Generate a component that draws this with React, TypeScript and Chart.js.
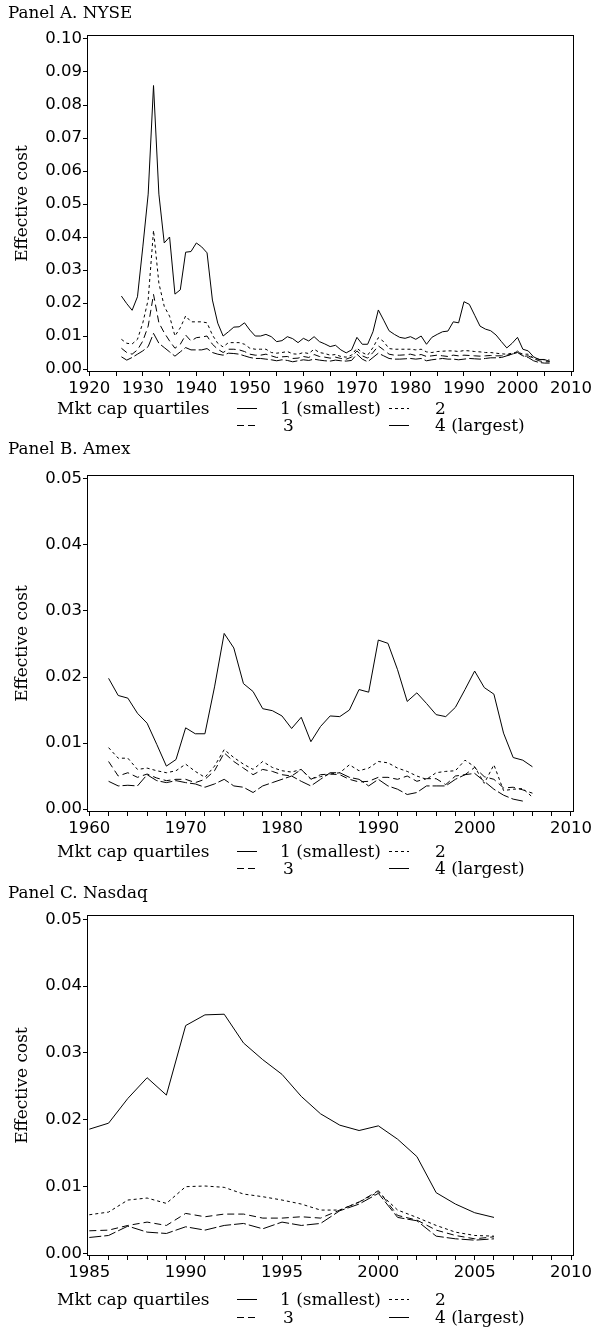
import React, { useEffect, useRef } from "react";
import { Chart, registerables } from "chart.js";

Chart.register(...registerables);

// ---------------- Panel A: NYSE ----------------
const nyseYears = [
  1926, 1927, 1928, 1929, 1930, 1931, 1932, 1933, 1934, 1935,
  1936, 1937, 1938, 1939, 1940, 1941, 1942, 1943, 1944, 1945,
  1946, 1947, 1948, 1949, 1950, 1951, 1952, 1953, 1954, 1955,
  1956, 1957, 1958, 1959, 1960, 1961, 1962, 1963, 1964, 1965,
  1966, 1967, 1968, 1969, 1970, 1971, 1972, 1973, 1974, 1975,
  1976, 1977, 1978, 1979, 1980, 1981, 1982, 1983, 1984, 1985,
  1986, 1987, 1988, 1989, 1990, 1991, 1992, 1993, 1994, 1995,
  1996, 1997, 1998, 1999, 2000, 2001, 2002, 2003, 2004, 2005,
  2006,
];
const nyseQ1 = [
  0.0221, 0.0198, 0.0178, 0.0219, 0.037, 0.053, 0.0859, 0.053, 0.0382, 0.04,
  0.0227, 0.024, 0.0354, 0.0356, 0.0382, 0.037, 0.0352, 0.0209, 0.0139, 0.01,
  0.0113, 0.0127, 0.0128, 0.014, 0.0118, 0.01, 0.01, 0.0105, 0.0098, 0.0083,
  0.0086, 0.0098, 0.0092, 0.008, 0.0093, 0.0085, 0.0098, 0.0083, 0.0076, 0.0068,
  0.0072, 0.0058, 0.0049, 0.0058, 0.0096, 0.0075, 0.0075, 0.0113, 0.0179, 0.0148,
  0.0116, 0.0105, 0.0096, 0.0093, 0.0098, 0.009, 0.01, 0.0075, 0.0096, 0.0105,
  0.0113, 0.0115, 0.0143, 0.014, 0.0204, 0.0196, 0.0163, 0.013, 0.0121, 0.0116,
  0.0103, 0.0083, 0.0064, 0.0078, 0.0096, 0.006, 0.0055, 0.0037, 0.0029, 0.0029,
  0.0023,
];
const nyseQ2 = [
  0.009, 0.0078, 0.0076, 0.009, 0.014, 0.021, 0.042, 0.026, 0.019, 0.016,
  0.01, 0.0125, 0.0161, 0.0143, 0.0143, 0.0143, 0.014, 0.0103, 0.0078, 0.0067,
  0.008, 0.008, 0.008, 0.0075, 0.0063, 0.006, 0.006, 0.006, 0.005, 0.0048,
  0.005, 0.0053, 0.0046, 0.0045, 0.005, 0.0047, 0.006, 0.005, 0.0047, 0.0042,
  0.0044, 0.0038, 0.0036, 0.0042, 0.0063, 0.005, 0.0042, 0.0065, 0.0095, 0.0083,
  0.0062, 0.006, 0.006, 0.006, 0.006, 0.0058, 0.006, 0.0052, 0.005, 0.0053,
  0.0054, 0.0055, 0.0055, 0.0053, 0.0056, 0.0055, 0.0053, 0.0052, 0.005, 0.005,
  0.0048, 0.0046, 0.0045, 0.0048, 0.0052, 0.0045, 0.0045, 0.0033, 0.003, 0.0028,
  0.0027,
];
const nyseQ3 = [
  0.0063, 0.005, 0.0045, 0.0058, 0.0085, 0.013, 0.0226, 0.014, 0.011, 0.0085,
  0.0063, 0.0075, 0.0103, 0.0085, 0.0095, 0.0097, 0.01, 0.0075, 0.006, 0.005,
  0.006, 0.006, 0.0058, 0.0053, 0.0045, 0.0042, 0.0042, 0.0045, 0.004, 0.0035,
  0.0037, 0.0038, 0.0032, 0.0033, 0.0038, 0.0035, 0.0044, 0.0038, 0.0036, 0.0033,
  0.0036, 0.0032, 0.003, 0.0036, 0.0055, 0.004, 0.0033, 0.005, 0.007, 0.0058,
  0.0045, 0.0042, 0.0042, 0.0043, 0.0045, 0.0041, 0.0044, 0.0038, 0.004, 0.0042,
  0.004, 0.0038, 0.0042, 0.004, 0.0042, 0.0041, 0.004, 0.0039, 0.004, 0.0041,
  0.004, 0.004, 0.0042, 0.0045, 0.0055, 0.0038, 0.004, 0.0032, 0.0025, 0.0022,
  0.0022,
];
const nyseQ4 = [
  0.0037, 0.0027, 0.0035, 0.0045, 0.0055, 0.0068, 0.0108, 0.0078, 0.0065, 0.0052,
  0.0039, 0.0052, 0.0065, 0.0058, 0.0058, 0.0058, 0.0062, 0.005, 0.0045, 0.0042,
  0.0048, 0.0047, 0.0045, 0.004, 0.0035, 0.0032, 0.0032, 0.003, 0.0028, 0.0025,
  0.0028, 0.0026, 0.0022, 0.0025, 0.0028, 0.0026, 0.003, 0.0027, 0.0025, 0.0024,
  0.0027, 0.0025, 0.0024, 0.0026, 0.0045, 0.003, 0.0022, 0.0035, 0.0048, 0.004,
  0.0032, 0.003, 0.003, 0.0031, 0.0032, 0.003, 0.0032, 0.0025, 0.0028, 0.003,
  0.0032, 0.003, 0.003, 0.0028, 0.003, 0.0032, 0.0031, 0.003, 0.0032, 0.0034,
  0.0034, 0.0035, 0.004, 0.0045, 0.005, 0.004, 0.0035, 0.0025, 0.002, 0.0018,
  0.0018,
];

// ---------------- Panel B: Amex ----------------
const amexYears = [
  1962, 1963, 1964, 1965, 1966, 1967, 1968, 1969, 1970, 1971,
  1972, 1973, 1974, 1975, 1976, 1977, 1978, 1979, 1980, 1981,
  1982, 1983, 1984, 1985, 1986, 1987, 1988, 1989, 1990, 1991,
  1992, 1993, 1994, 1995, 1996, 1997, 1998, 1999, 2000, 2001,
  2002, 2003, 2004, 2005, 2006,
];
const amexQ1 = [
  0.0198, 0.0172, 0.0168, 0.0145, 0.013, 0.0098, 0.0065, 0.0075, 0.0123, 0.0114,
  0.0114, 0.0185, 0.0266, 0.0244, 0.019, 0.0178, 0.0152, 0.0149, 0.0141, 0.0122,
  0.0139, 0.0102, 0.0125, 0.0141, 0.014, 0.015, 0.0181, 0.0177, 0.0256, 0.0251,
  0.0211, 0.0163, 0.0176, 0.016, 0.0143, 0.014, 0.0154, 0.0181, 0.0209, 0.0184,
  0.0174, 0.0115, 0.0078, 0.0074, 0.0064,
];
const amexQ2 = [
  0.0093, 0.0077, 0.0077, 0.006, 0.0062, 0.0058, 0.0055, 0.0058, 0.0068, 0.0057,
  0.0048, 0.0065, 0.009, 0.0078, 0.0068, 0.006, 0.0072, 0.0063, 0.0058, 0.0056,
  0.006, 0.0046, 0.0049, 0.0053, 0.0055, 0.0067, 0.0058, 0.0062, 0.0072, 0.007,
  0.0062, 0.0057, 0.005, 0.0045, 0.0055, 0.0057, 0.0058, 0.0074, 0.0064, 0.0039,
  0.0067, 0.0028, 0.003, 0.0031, 0.0018,
];
const amexQ3 = [
  0.0072, 0.005, 0.0055, 0.0048, 0.0053, 0.0047, 0.0043, 0.0045, 0.0045, 0.004,
  0.0045, 0.0058, 0.0085, 0.0072, 0.0062, 0.0052, 0.006, 0.0057, 0.0052, 0.005,
  0.006, 0.0045, 0.0052, 0.0053, 0.0052, 0.0045, 0.0041, 0.0042, 0.0048, 0.0048,
  0.0045, 0.005, 0.0042, 0.0046, 0.0046, 0.0037, 0.005, 0.0052, 0.0063, 0.0049,
  0.0045, 0.0032, 0.0033, 0.0029, 0.0024,
];
const amexQ4 = [
  0.0042, 0.0035, 0.0036, 0.0035, 0.0052, 0.0043, 0.004, 0.0043, 0.004, 0.0038,
  0.0033, 0.0038, 0.0045, 0.0035, 0.0033, 0.0025, 0.0035, 0.004, 0.0045, 0.005,
  0.0042, 0.0035, 0.0045, 0.0055, 0.0055, 0.0048, 0.0045, 0.0035, 0.0045, 0.0035,
  0.003, 0.0022, 0.0025, 0.0035, 0.0035, 0.0035, 0.0045, 0.0052, 0.0054, 0.0042,
  0.003, 0.0021, 0.0015, 0.0012, null,
];

// ---------------- Panel C: Nasdaq ----------------
const nasdaqYears = [
  1985, 1986, 1987, 1988, 1989, 1990, 1991, 1992, 1993, 1994, 1995,
  1996, 1997, 1998, 1999, 2000, 2001, 2002, 2003, 2004, 2005, 2006,
];
const nasdaqQ1 = [
  0.0186, 0.0195, 0.0232, 0.0263, 0.0237, 0.0341, 0.0357, 0.0358, 0.0315, 0.029, 0.0268,
  0.0235, 0.0209, 0.0192, 0.0184, 0.0191, 0.0171, 0.0145, 0.0091, 0.0074, 0.0061, 0.0054,
];
const nasdaqQ2 = [
  0.0058, 0.0062, 0.008, 0.0083, 0.0075, 0.01, 0.0101, 0.0099, 0.0089, 0.0085, 0.008,
  0.0074, 0.0065, 0.0065, 0.0077, 0.0092, 0.0065, 0.0054, 0.0042, 0.0032, 0.0027, 0.0026,
];
const nasdaqQ3 = [
  0.0034, 0.0035, 0.0042, 0.0047, 0.0042, 0.006, 0.0055, 0.0059, 0.0059, 0.0053, 0.0053,
  0.0055, 0.0053, 0.0065, 0.0077, 0.0094, 0.0057, 0.005, 0.0035, 0.0027, 0.0022, 0.0025,
];
const nasdaqQ4 = [
  0.0024, 0.0027, 0.0041, 0.0032, 0.003, 0.004, 0.0035, 0.0042, 0.0045, 0.0037, 0.0047,
  0.0042, 0.0045, 0.0064, 0.0074, 0.009, 0.0054, 0.0049, 0.0026, 0.0022, 0.002, 0.0022,
];

// ---------------- Labels ----------------
const panelTitles = ["Panel A. NYSE", "Panel B. Amex", "Panel C. Nasdaq"];
const yAxisTitle = "Effective cost";
const legendTitle = "Mkt cap quartiles";
const seriesLabels = ["1 (smallest)", "2", "3", "4 (largest)"];
const nyseYTicks = [0, 0.01, 0.02, 0.03, 0.04, 0.05, 0.06, 0.07, 0.08, 0.09, 0.1];
const smallYTicks = [0, 0.01, 0.02, 0.03, 0.04, 0.05];

// ---------------- Styling ----------------
const DASHES: number[][] = [[], [3, 3], [7, 4], [12, 3]];
const TITLE_FONT = '16.8px "DejaVu Serif"';
const LEGEND_FONT = '17px "DejaVu Serif"';
const YTITLE_FONT = '17px "DejaVu Serif"';
const TICK_FONT = { family: "DejaVu Sans", size: 16.5 };
const PANEL_H = 440;
const CANVAS_H = 450;
const W = 592;
const PLOT_LEFT = 87;
const PLOT_RIGHT = 573;
const PLOT_TOP = 35;
const X_AXIS_H = 30;

function range(a: number, b: number, step: number) {
  const out: number[] = [];
  for (let v = a; v <= b + 1e-9; v += step) out.push(Math.round(v * 1000) / 1000);
  return out;
}

type PanelCfg = {
  top: number;
  title: string;
  titleBase: number;
  plotBottom: number;
  legendRows: [number, number];
  years: number[];
  series: (number | null)[][];
  xMin: number;
  xMax: number;
  xTicks: number[];
  xMajor: number;
  yMin: number;
  yMax: number;
  yTicks: number[];
};

function seg(ctx: CanvasRenderingContext2D, x1: number, x2: number, y: number, dash: number[]) {
  ctx.save();
  ctx.setLineDash(dash);
  ctx.beginPath();
  ctx.moveTo(x1, Math.round(y) + 0.5);
  ctx.lineTo(x2, Math.round(y) + 0.5);
  ctx.stroke();
  ctx.restore();
}

function Panel({ cfg }: { cfg: PanelCfg }) {
  const ref = useRef<HTMLCanvasElement | null>(null);
  useEffect(() => {
    if (!ref.current) return;
    const decor = {
      id: "decor",
      afterDraw(chart: any) {
        const ctx: CanvasRenderingContext2D = chart.ctx;
        const { left, right, top, bottom } = chart.chartArea;
        ctx.save();
        ctx.strokeStyle = "#000";
        ctx.lineWidth = 1;
        ctx.setLineDash([]);
        ctx.strokeRect(left + 0.5, top + 0.5, right - left, bottom - top - 1);
        ctx.fillStyle = "#000";
        ctx.textAlign = "left";
        ctx.textBaseline = "alphabetic";
        ctx.font = TITLE_FONT;
        ctx.fillText(cfg.title, 8, cfg.titleBase);
        // y title
        ctx.save();
        ctx.font = YTITLE_FONT;
        ctx.translate(23, (top + bottom) / 2);
        ctx.rotate(-Math.PI / 2);
        ctx.textAlign = "center";
        ctx.textBaseline = "middle";
        ctx.fillText(yAxisTitle, 0, 0);
        ctx.restore();
        // legend (row centres -> baselines)
        ctx.font = LEGEND_FONT;
        const y1 = cfg.legendRows[0] + 6;
        const y2 = cfg.legendRows[1] + 6;
        ctx.fillText(legendTitle, 57, y1);
        seg(ctx, 237, 257, cfg.legendRows[0], DASHES[0]);
        ctx.fillText(seriesLabels[0], 280, y1);
        seg(ctx, 389, 409, cfg.legendRows[0], DASHES[1]);
        ctx.fillText(seriesLabels[1], 435, y1);
        seg(ctx, 237, 257, cfg.legendRows[1], DASHES[2]);
        ctx.fillText(seriesLabels[2], 283, y2);
        seg(ctx, 389, 409, cfg.legendRows[1], []);
        ctx.fillText(seriesLabels[3], 435, y2);
        ctx.restore();
      },
    };
    const chart = new Chart(ref.current, {
      type: "line",
      data: {
        datasets: cfg.series.map((vals, i) => ({
          label: seriesLabels[i],
          data: cfg.years.map((yr, j) => ({ x: yr, y: vals[j] })),
          borderColor: "#000",
          borderWidth: 1,
          borderDash: DASHES[i],
          pointRadius: 0,
          fill: false,
          tension: 0,
          spanGaps: false,
        })),
      },
      options: {
        animation: false,
        responsive: false,
        maintainAspectRatio: false,
        layout: {
          padding: {
            left: 0,
            top: PLOT_TOP,
            right: W - PLOT_RIGHT,
            bottom: CANVAS_H - cfg.plotBottom - X_AXIS_H,
          },
        },
        plugins: {
          legend: { display: false },
          title: { display: false },
          tooltip: { enabled: false },
        },
        scales: {
          x: {
            type: "linear",
            min: cfg.xMin,
            max: cfg.xMax,
            afterBuildTicks: (scale: any) => {
              scale.ticks = cfg.xTicks.map((v) => ({ value: v }));
            },
            afterFit: (scale: any) => {
              scale.height = X_AXIS_H;
              scale.paddingLeft = 0;
              scale.paddingRight = 0;
            },
            grid: { drawOnChartArea: false, drawTicks: true, tickLength: 4, color: "#000" },
            border: { display: false },
            ticks: {
              autoSkip: false,
              maxRotation: 0,
              minRotation: 0,
              padding: 3,
              color: "#000",
              font: TICK_FONT,
              callback: (v: any) => (Math.round(Number(v)) % cfg.xMajor === 0 ? String(Math.round(Number(v))) : ""),
            },
          },
          y: {
            type: "linear",
            min: cfg.yMin,
            max: cfg.yMax,
            afterBuildTicks: (scale: any) => {
              scale.ticks = cfg.yTicks.map((v) => ({ value: v }));
            },
            afterFit: (scale: any) => {
              scale.width = PLOT_LEFT;
              scale.paddingTop = 0;
              scale.paddingBottom = 0;
            },
            grid: { drawOnChartArea: false, drawTicks: true, tickLength: 4, color: "#000" },
            border: { display: false },
            ticks: {
              autoSkip: false,
              padding: 1,
              color: "#000",
              font: TICK_FONT,
              callback: (v: any) => Number(v).toFixed(2),
            },
          },
        },
      },
      plugins: [decor],
    } as any);
    return () => chart.destroy();
  }, [cfg]);
  return (
    <canvas
      ref={ref}
      width={W}
      height={CANVAS_H}
      style={{ position: "absolute", left: 0, top: cfg.top, width: W, height: CANVAS_H }}
    />
  );
}

const panels: PanelCfg[] = [
  {
    top: 0,
    title: panelTitles[0],
    titleBase: 18,
    plotBottom: 372,
    legendRows: [408, 425],
    years: nyseYears,
    series: [nyseQ1, nyseQ2, nyseQ3, nyseQ4],
    xMin: 1919.57,
    xMax: 2010.37,
    xTicks: range(1920, 2010, 5),
    xMajor: 10,
    yMin: -0.0009,
    yMax: 0.10121,
    yTicks: nyseYTicks,
  },
  {
    top: PANEL_H,
    title: panelTitles[1],
    titleBase: 14,
    plotBottom: 372,
    legendRows: [411, 428],
    years: amexYears,
    series: [amexQ1, amexQ2, amexQ3, amexQ4],
    xMin: 1959.76,
    xMax: 2010.21,
    xTicks: range(1960, 2010, 2),
    xMajor: 10,
    yMin: -0.00045,
    yMax: 0.0506,
    yTicks: smallYTicks,
  },
  {
    top: PANEL_H * 2,
    title: panelTitles[2],
    titleBase: 18,
    plotBottom: 376,
    legendRows: [419, 437],
    years: nasdaqYears,
    series: [nasdaqQ1, nasdaqQ2, nasdaqQ3, nasdaqQ4],
    xMin: 1984.88,
    xMax: 2010.1,
    xTicks: range(1985, 2010, 1),
    xMajor: 5,
    yMin: -0.00037,
    yMax: 0.05064,
    yTicks: smallYTicks,
  },
];

export default function App() {
  return (
    <div style={{ position: "absolute", left: 0, top: 0, width: W, height: 1330, background: "#fff" }}>
      {panels.map((p, i) => (
        <Panel key={i} cfg={p} />
      ))}
    </div>
  );
}
